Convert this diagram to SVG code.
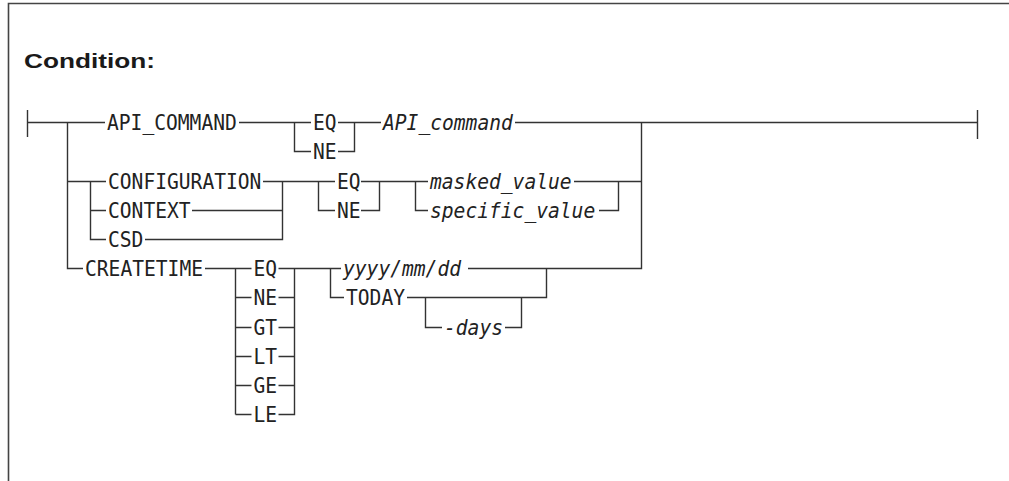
<svg xmlns="http://www.w3.org/2000/svg" width="1009" height="481" viewBox="0 0 1009 481">
<style>
.t{font-family:"DejaVu Sans Mono","Liberation Mono",monospace;font-size:21px;fill:#222}
.i{font-style:italic}
.c path{fill:none;stroke:#333;stroke-width:1.4}
.b{fill:none;stroke:#444;stroke-width:1.6}
.h{font-family:"Liberation Sans",Arial,sans-serif;font-weight:bold;font-size:21px;fill:#1a1a1a}
</style>
<rect width="1009" height="481" fill="#fff"/>
<path class="b" d="M8.5,481 V3.5 H1009"/>
<text class="h" x="24" y="67.5" textLength="131" lengthAdjust="spacingAndGlyphs">Condition:</text>
<g id="connectors" class="c">
<path d="M27.5,110 V137 M977.5,110 V139"/>
<path d="M27.5,122.5 H105 M239,122.5 H311 M338,122.5 H381 M515,122.5 H977.5"/>
<path d="M294.5,122.5 V151.5 H311 M338,151.5 H354.5 V122.5"/>
<path d="M67.5,122.5 V268.5 H83 M67.5,181.5 H106 M90.5,181.5 V239.5 H106 M90.5,210.5 H106"/>
<path d="M263,181.5 H335 M192,210.5 H282.5 M145,239.5 H282.5 V181.5"/>
<path d="M318.5,181.5 V210.5 H335 M361,181.5 H428 M361,210.5 H379.5 V181.5"/>
<path d="M415.5,181.5 V210.5 H428 M574,181.5 H641.5 M599,210.5 H618.5 V181.5"/>
<path d="M468,268.5 H641.5 V122.5"/>
<path d="M205,268.5 H251.5 M235.5,268.5 V414.5 M235.5,297.5 H251.5 M235.5,327.5 H251.5 M235.5,356.5 H251.5 M235.5,385.5 H251.5 M235.5,414.5 H251.5"/>
<path d="M278.5,268.5 H341 M278.5,297.5 H294.5 M278.5,327.5 H294.5 M278.5,356.5 H294.5 M278.5,385.5 H294.5 M278.5,414.5 H294.5 V268.5"/>
<path d="M330.5,268.5 V297.5 H344 M407,297.5 H546.5 V268.5 M425.5,297.5 V327.5 H442 M505,327.5 H521.5 V297.5"/>
</g>
<g id="n_api_command"><text class="t" x="107" y="130" textLength="129.8" lengthAdjust="spacingAndGlyphs">API_COMMAND</text></g>
<g id="n_api_eq"><text class="t" x="313" y="130" textLength="23.6" lengthAdjust="spacingAndGlyphs">EQ</text></g>
<g id="n_api_ne"><text class="t" x="313" y="159" textLength="23.6" lengthAdjust="spacingAndGlyphs">NE</text></g>
<g id="n_api_value"><text class="t i" x="383" y="130" textLength="129.8" lengthAdjust="spacingAndGlyphs">API_command</text></g>
<g id="n_configuration"><text class="t" x="108" y="189" textLength="153.4" lengthAdjust="spacingAndGlyphs">CONFIGURATION</text></g>
<g id="n_context"><text class="t" x="108" y="218" textLength="82.6" lengthAdjust="spacingAndGlyphs">CONTEXT</text></g>
<g id="n_csd"><text class="t" x="108" y="247" textLength="35.4" lengthAdjust="spacingAndGlyphs">CSD</text></g>
<g id="n_cfg_eq"><text class="t" x="337" y="189" textLength="23.6" lengthAdjust="spacingAndGlyphs">EQ</text></g>
<g id="n_cfg_ne"><text class="t" x="337" y="218" textLength="23.6" lengthAdjust="spacingAndGlyphs">NE</text></g>
<g id="n_masked"><text class="t i" x="430" y="189" textLength="141.6" lengthAdjust="spacingAndGlyphs">masked_value</text></g>
<g id="n_specific"><text class="t i" x="430" y="218" textLength="165.2" lengthAdjust="spacingAndGlyphs">specific_value</text></g>
<g id="n_createtime"><text class="t" x="85" y="276" textLength="118" lengthAdjust="spacingAndGlyphs">CREATETIME</text></g>
<g id="n_ct_eq"><text class="t" x="253.5" y="276" textLength="23.6" lengthAdjust="spacingAndGlyphs">EQ</text></g>
<g id="n_ct_ne"><text class="t" x="253.5" y="305" textLength="23.6" lengthAdjust="spacingAndGlyphs">NE</text></g>
<g id="n_ct_gt"><text class="t" x="253.5" y="335" textLength="23.6" lengthAdjust="spacingAndGlyphs">GT</text></g>
<g id="n_ct_lt"><text class="t" x="253.5" y="364" textLength="23.6" lengthAdjust="spacingAndGlyphs">LT</text></g>
<g id="n_ct_ge"><text class="t" x="253.5" y="393" textLength="23.6" lengthAdjust="spacingAndGlyphs">GE</text></g>
<g id="n_ct_le"><text class="t" x="253.5" y="422" textLength="23.6" lengthAdjust="spacingAndGlyphs">LE</text></g>
<g id="n_date"><text class="t i" x="343" y="276" textLength="118" lengthAdjust="spacingAndGlyphs">yyyy/mm/dd</text></g>
<g id="n_today"><text class="t" x="346" y="305" textLength="59" lengthAdjust="spacingAndGlyphs">TODAY</text></g>
<g id="n_days"><text class="t i" x="444" y="335" textLength="59" lengthAdjust="spacingAndGlyphs">-days</text></g>
</svg>
